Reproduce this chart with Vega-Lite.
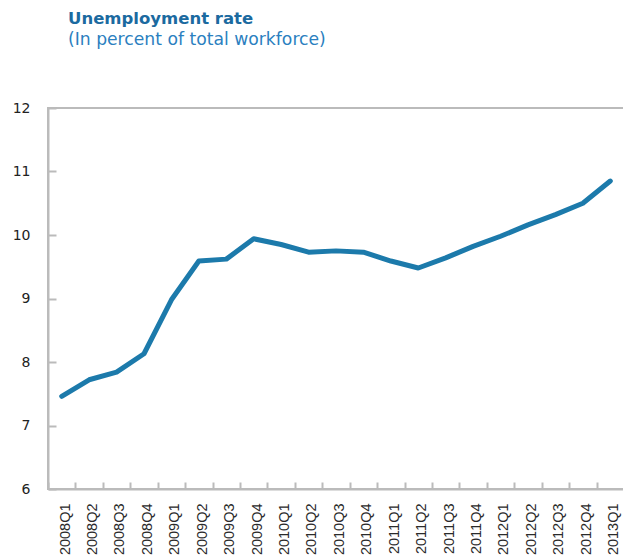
{
  "$schema": "https://vega.github.io/schema/vega-lite/v6.json",
  "autosize": "none",
  "width": 576,
  "height": 381,
  "padding": {"left": 48, "top": 108, "right": 0, "bottom": 69},
  "background": "white",
  "config": {"view": {"stroke": "#bbbbbb", "strokeWidth": 2}},
  "title": {
    "text": "Unemployment rate",
    "subtitle": "(In percent of  total workforce)",
    "anchor": "start",
    "frame": "group",
    "dx": 20,
    "offset": 53,
    "font": "DejaVu Sans",
    "fontSize": 16.5,
    "fontWeight": "bold",
    "color": "#1b6aa0",
    "subtitleFont": "DejaVu Sans",
    "subtitleFontSize": 17.2,
    "subtitleColor": "#2b7fc0",
    "subtitlePadding": 3
  },
  "data": {
    "values": [
      {"quarter": "2008Q1", "rate": 7.46},
      {"quarter": "2008Q2", "rate": 7.72},
      {"quarter": "2008Q3", "rate": 7.84},
      {"quarter": "2008Q4", "rate": 8.13},
      {"quarter": "2009Q1", "rate": 8.98},
      {"quarter": "2009Q2", "rate": 9.59},
      {"quarter": "2009Q3", "rate": 9.62},
      {"quarter": "2009Q4", "rate": 9.94},
      {"quarter": "2010Q1", "rate": 9.85},
      {"quarter": "2010Q2", "rate": 9.73},
      {"quarter": "2010Q3", "rate": 9.75},
      {"quarter": "2010Q4", "rate": 9.73},
      {"quarter": "2011Q1", "rate": 9.59},
      {"quarter": "2011Q2", "rate": 9.48},
      {"quarter": "2011Q3", "rate": 9.64},
      {"quarter": "2011Q4", "rate": 9.82},
      {"quarter": "2012Q1", "rate": 9.98},
      {"quarter": "2012Q2", "rate": 10.16},
      {"quarter": "2012Q3", "rate": 10.32},
      {"quarter": "2012Q4", "rate": 10.5},
      {"quarter": "2013Q1", "rate": 10.85}
    ]
  },
  "mark": {"type": "line", "color": "#1c7aab", "strokeWidth": 5, "strokeCap": "round", "strokeJoin": "round"},
  "encoding": {
    "x": {
      "field": "quarter",
      "type": "ordinal",
      "sort": null,
      "scale": {"type": "point", "padding": 0.5},
      "axis": {
        "title": null,
        "labelAngle": -90,
        "labelFont": "Liberation Sans",
        "labelFontSize": 14.5,
        "labelColor": "#2a2a2a",
        "labelPadding": 21,
        "labelOffset": 17,
        "labelOverlap": false,
        "tickOffset": -13.7,
        "tickSize": -7,
        "tickWidth": 2,
        "tickColor": "#bbbbbb",
        "domainColor": "#bbbbbb",
        "domainWidth": 2,
        "grid": false
      }
    },
    "y": {
      "field": "rate",
      "type": "quantitative",
      "scale": {"domain": [6, 12], "nice": false, "zero": false},
      "axis": {
        "title": null,
        "values": [6, 7, 8, 9, 10, 11, 12],
        "labelFont": "DejaVu Sans",
        "labelFontSize": 14,
        "labelColor": "#222222",
        "labelPadding": 26,
        "tickSize": -8,
        "tickWidth": 2,
        "tickColor": "#bbbbbb",
        "domainColor": "#bbbbbb",
        "domainWidth": 2,
        "grid": false
      }
    }
  }
}
